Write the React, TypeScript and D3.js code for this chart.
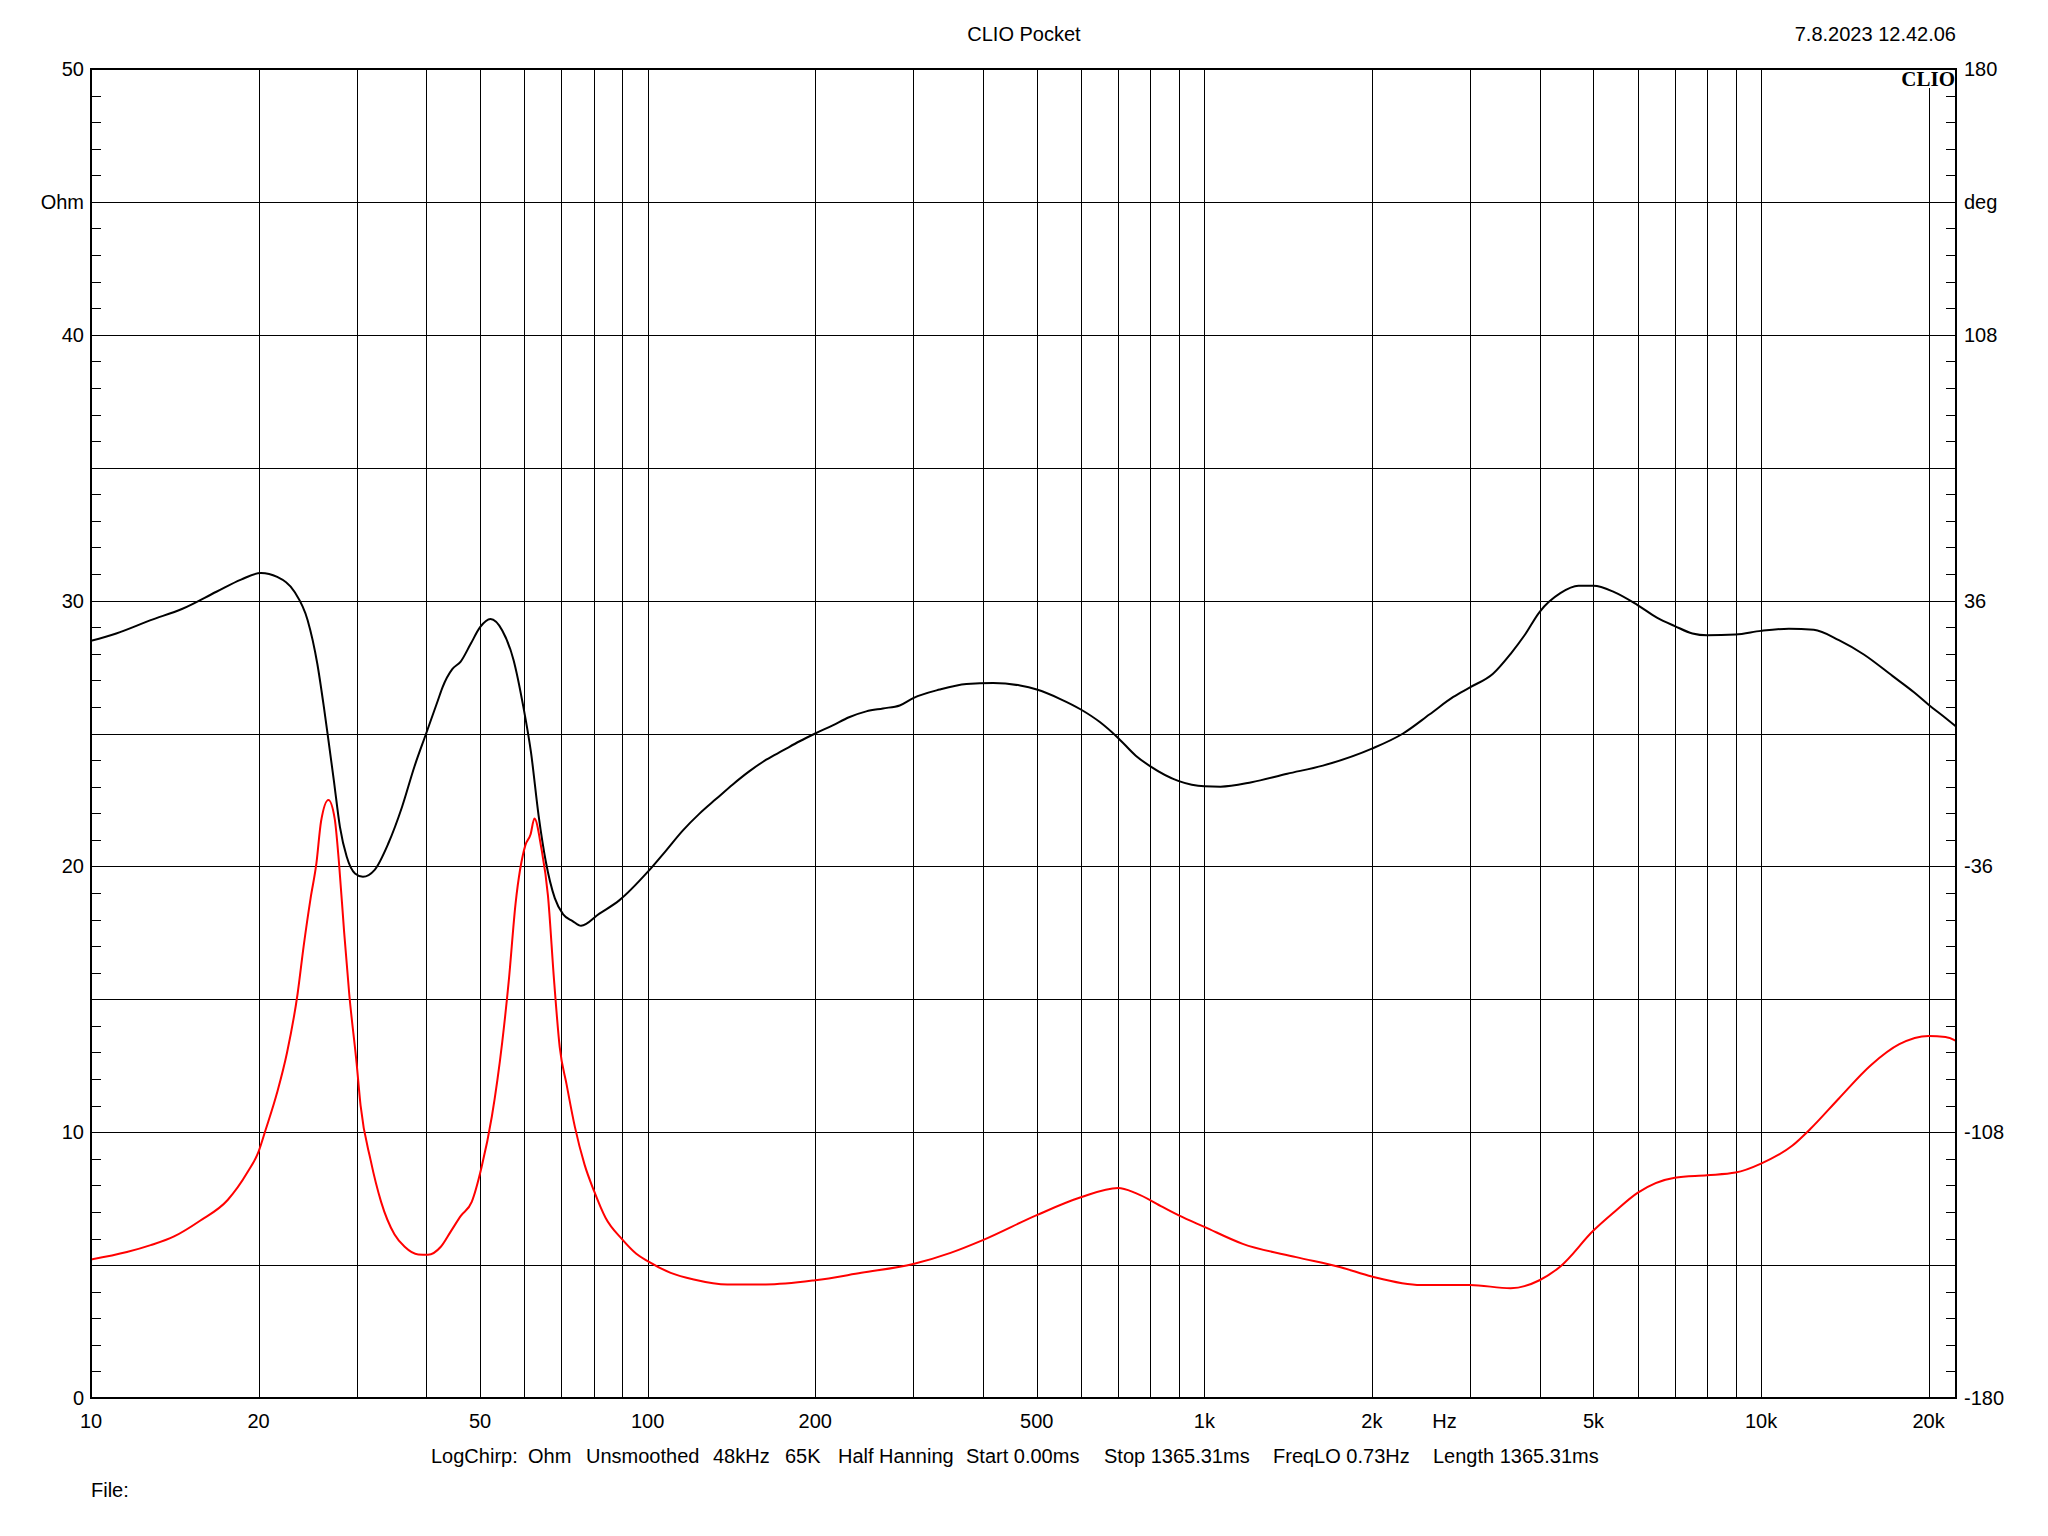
import React from "react";
import * as d3 from "d3";

const W = 2048;
const H = 1536;
const frame = { left: 91, right: 1956, top: 69, bottom: 1398 };

// impedance magnitude (red, left axis, Ohm)
const redFreq = [
  10, 11.6, 12.8, 14.1, 15.7, 17.6, 19.1, 20, 20.6, 21.6, 22.5, 23.5, 24.1, 24.8, 25.4, 25.9,
  26.7, 27.4, 27.9, 28.5, 29.1, 30, 30.5, 31.8, 33.2, 35.1, 36.6, 38.7, 40.3, 42.5, 44.3, 46.2,
  48.3, 50.3, 52.5, 54.8, 56.3, 57.9, 60.3, 61.6, 62.6, 64.4, 66.2, 67.9, 69.5, 71.5, 74, 77,
  80.1, 84, 90, 95.4, 100, 110, 121, 139, 163, 200, 242, 300, 350, 400, 500, 600, 700, 753, 841,
  900, 1000, 1172, 1462, 1757, 2000, 2450, 3000, 3550, 4000, 4366, 5000, 5450, 6000, 7000, 8000,
  9000, 10000, 11390, 12260, 13800, 15750, 17720, 20000, 21450, 22400,
];
const redOhm = [
  5.21, 5.49, 5.75, 6.08, 6.67, 7.45, 8.49, 9.27, 10.1, 11.5, 13.0, 15.2, 17.0, 18.8, 20.1, 21.7,
  22.5, 21.8, 20.1, 17.5, 15.2, 12.6, 11.0, 8.94, 7.38, 6.15, 5.69, 5.4, 5.39, 5.69, 6.27, 6.86,
  7.38, 8.68, 10.6, 13.4, 15.7, 18.6, 20.8, 21.2, 21.8, 20.7, 18.9, 15.7, 13.2, 11.8, 10.2, 8.79,
  7.79, 6.78, 5.97, 5.43, 5.15, 4.71, 4.46, 4.27, 4.27, 4.43, 4.71, 5.04, 5.46, 5.94, 6.88, 7.55,
  7.9, 7.71, 7.19, 6.87, 6.44, 5.8, 5.3, 4.92, 4.57, 4.25, 4.25, 4.13, 4.43, 4.96, 6.3, 7.0,
  7.72, 8.29, 8.38, 8.48, 8.82, 9.5, 10.12, 11.27, 12.52, 13.31, 13.62, 13.58, 13.44,
];

// impedance phase (black, right axis, deg)
const blackFreq = [
  10, 11.1, 12.8, 14.6, 16.8, 18.6, 20.2, 21.6, 23.2, 24.5, 25.5, 26.2, 26.7, 27.3, 28, 28.8,
  29.8, 30.8, 32.3, 34.2, 36.2, 38.1, 40, 42, 42.8, 44.6, 46.1, 48.1, 50, 52.2, 54.8, 57.4, 59.8,
  61.7, 63.7, 65.6, 68.1, 70.5, 73.3, 75.9, 81.9, 88.9, 100, 107.9, 115.6, 123.9, 132.8, 142.2,
  152.4, 163.3, 175, 187.5, 200, 215, 230, 247, 264.6, 283.6, 300, 334.6, 373.8, 417.5, 466.6,
  500, 550, 600, 649, 700, 753, 800, 900, 1000, 1069, 1216, 1409, 1633, 2000, 2275, 2540, 2800,
  3000, 3300, 3550, 3760, 4000, 4360, 4700, 5000, 5450, 6000, 6500, 7000, 7530, 8000, 9000,
  10000, 11220, 12440, 13800, 15300, 17220, 18850, 20000, 21450, 22400,
];
const blackDeg = [
  25.1, 27.1, 30.7, 33.8, 38.4, 41.7, 43.5, 42.4, 38.4, 30.7, 18.9, 7.2, -1.8, -12.6, -25.3,
  -33.4, -37.9, -38.8, -37.0, -29.8, -19.9, -9.0, 0, 9.0, 12.5, 17.5, 19.4, 24.3, 28.8, 31.0,
  27.9, 20.0, 7.2, -5.0, -22.3, -34.6, -44.6, -49.0, -50.8, -52.1, -48.8, -45.2, -37.5, -31.7,
  -26.3, -21.7, -17.7, -13.8, -10.2, -7.1, -4.6, -2.1, 0, 2.2, 4.4, 6.0, 6.8, 7.6, 9.6, 11.9,
  13.4, 13.7, 13.0, 11.9, 9.4, 6.5, 3.1, -1.2, -6.0, -8.9, -12.9, -14.3, -14.4, -13.2, -10.9,
  -8.7, -4.1, 0, 5.2, 9.9, 12.5, 16.2, 21.6, 26.6, 32.9, 38.0, 40.0, 40.0, 38.3, 34.8, 31.4,
  29.1, 27.1, 26.6, 26.8, 27.8, 28.4, 28.1, 25.3, 21.4, 15.6, 11.1, 7.8, 4.2, 1.9,
];

const xTickFreqs = [10, 20, 50, 100, 200, 500, 1000, 2000, 5000, 10000, 20000];
const xTickLabels = ["10", "20", "50", "100", "200", "500", "1k", "2k", "5k", "10k", "20k"];
const leftTicks = [0, 10, 20, 30, 40, 50];
const rightTicks = [-180, -108, -36, 36, 108, 180];

const infoItems = [
  "LogChirp:", "Ohm", "Unsmoothed", "48kHz", "65K", "Half Hanning",
  "Start 0.00ms", "Stop 1365.31ms", "FreqLO 0.73Hz", "Length 1365.31ms",
];
const infoX = [431, 528, 586, 713, 785, 838, 966, 1104, 1273, 1433];

const font = "'Liberation Sans', Arial, sans-serif";

export default function App() {
  const x = d3.scaleLog().domain([10, 22400]).range([frame.left, frame.right]);
  const yOhm = d3.scaleLinear().domain([0, 50]).range([frame.bottom, frame.top]);
  const yDeg = d3.scaleLinear().domain([-180, 180]).range([frame.bottom, frame.top]);

  const gridFreqs: number[] = [];
  for (const dec of [10, 100, 1000, 10000]) {
    for (let k = 1; k < 10; k++) {
      const f = dec * k;
      if (f > 10 && f < 22400) gridFreqs.push(f);
    }
  }
  const gridOhm = d3.range(5, 50, 5);
  const minorOhm = d3.range(1, 50).filter((v) => v % 5 !== 0);

  const redLine = d3
    .line<number>()
    .x((_, i) => x(redFreq[i]))
    .y((v) => yOhm(v))
    .curve(d3.curveMonotoneX);
  const blackLine = d3
    .line<number>()
    .x((_, i) => x(blackFreq[i]))
    .y((v) => yDeg(v))
    .curve(d3.curveMonotoneX);

  const px = (v: number) => Math.round(v) + 0.5;

  return (
    <svg
      width={W}
      height={H}
      style={{ position: "absolute", left: 0, top: 0, background: "#fff" }}
      fontFamily={font}
      fontSize={20}
    >
      <rect x={0} y={0} width={W} height={H} fill="#fff" />
      <defs>
        <clipPath id="plot">
          <rect x={frame.left} y={frame.top} width={frame.right - frame.left} height={frame.bottom - frame.top} />
        </clipPath>
      </defs>

      {/* grid */}
      <g stroke="#000" strokeWidth={1} shapeRendering="crispEdges">
        {gridFreqs.map((f) => (
          <line key={"gv" + f} x1={px(x(f))} x2={px(x(f))} y1={frame.top} y2={frame.bottom} />
        ))}
        {gridOhm.map((v) => (
          <line key={"gh" + v} x1={frame.left} x2={frame.right} y1={px(yOhm(v))} y2={px(yOhm(v))} />
        ))}
        {minorOhm.map((v) => (
          <g key={"mt" + v}>
            <line x1={frame.left} x2={frame.left + 10} y1={px(yOhm(v))} y2={px(yOhm(v))} />
            <line x1={frame.right - 10} x2={frame.right} y1={px(yOhm(v))} y2={px(yOhm(v))} />
          </g>
        ))}
      </g>

      {/* curves */}
      <g clipPath="url(#plot)" fill="none" strokeWidth={2} strokeLinejoin="round">
        <path d={blackLine(blackDeg) || ""} stroke="#000" />
        <path d={redLine(redOhm) || ""} stroke="#ff0000" />
      </g>

      {/* CLIO logo */}
      <rect x={1900} y={70} width={55} height={18} fill="#fff" />
      <text
        x={frame.right - 1}
        y={86}
        textAnchor="end"
        fontFamily="'Liberation Serif', 'Times New Roman', serif"
        fontWeight="bold"
        fontSize={21}
      >
        CLIO
      </text>

      {/* frame */}
      <rect
        x={frame.left}
        y={frame.top}
        width={frame.right - frame.left}
        height={frame.bottom - frame.top}
        fill="none"
        stroke="#000"
        strokeWidth={2}
        shapeRendering="crispEdges"
      />

      {/* left axis labels */}
      {leftTicks.map((v) => (
        <text key={"lt" + v} x={84} y={yOhm(v)} dy="0.35em" textAnchor="end">
          {v}
        </text>
      ))}
      <text x={84} y={yOhm(45)} dy="0.35em" textAnchor="end">
        Ohm
      </text>

      {/* right axis labels */}
      {rightTicks.map((v) => (
        <text key={"rt" + v} x={1964} y={yDeg(v)} dy="0.35em" textAnchor="start">
          {v}
        </text>
      ))}
      <text x={1964} y={yDeg(144)} dy="0.35em" textAnchor="start">
        deg
      </text>

      {/* x labels */}
      {xTickFreqs.map((f, i) => (
        <text key={"xt" + f} x={x(f)} y={1428} textAnchor="middle">
          {xTickLabels[i]}
        </text>
      ))}
      <text x={x(2700)} y={1428} textAnchor="middle">
        Hz
      </text>

      {/* header */}
      <text x={1024} y={41} textAnchor="middle">
        CLIO Pocket
      </text>
      <text x={1956} y={41} textAnchor="end">
        7.8.2023 12.42.06
      </text>

      {/* info line */}
      {infoItems.map((t, i) => (
        <text key={"in" + i} x={infoX[i]} y={1463}>
          {t}
        </text>
      ))}
      <text x={91} y={1497}>
        File:
      </text>
    </svg>
  );
}
